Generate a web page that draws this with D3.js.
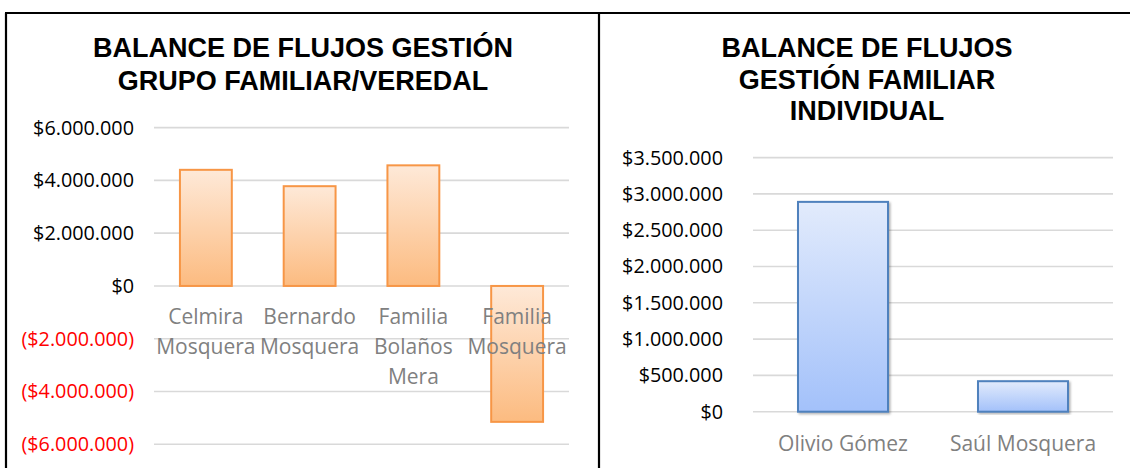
<!DOCTYPE html>
<html lang="es">
<head>
  <meta charset="UTF-8">
  <title>Balance de flujos</title>
  <script src="https://cdn.jsdelivr.net/npm/d3@7"></script>
</head>
<body>
<style>
  body {
    margin: 0;
    padding: 0;
    background: #fff;
  }

  .title {
    font-family: "Liberation Sans", Arial, sans-serif;
    font-weight: bold;
    font-size: 27px;
    fill: #000;
  }

  .tick-label {
    font-family: "Open Sans", sans-serif;
    font-size: 19.8px;
  }

  .cat-label {
    font-family: "Open Sans", sans-serif;
    font-size: 21px;
    fill: #808080;
  }
</style>
<script>
  const width = 1130
  const height = 468

  // left chart: grupo familiar / veredal
  const groupNames = [
    ['Celmira', 'Mosquera'],
    ['Bernardo', 'Mosquera'],
    ['Familia', 'Bolaños', 'Mera'],
    ['Familia', 'Mosquera']
  ]
  const groupValues = [4400000, 3780000, 4570000, -5150000]
  const groupTicks = [-6000000, -4000000, -2000000, 0, 2000000, 4000000, 6000000]

  // right chart: familiar individual
  const indivNames = ['Olivio Gómez', 'Saúl Mosquera']
  const indivValues = [2890000, 420000]
  const indivTicks = [0, 500000, 1000000, 1500000, 2000000, 2500000, 3000000, 3500000]

  const money = v => {
    const s = '$' + d3.format(',')(Math.abs(v)).replace(/,/g, '.')
    return v < 0 ? `(${s})` : s
  }

  const svg = d3.select('body').append('svg')
    .attr('width', width)
    .attr('height', height)

  const defs = svg.append('defs')

  const orange = defs.append('linearGradient')
    .attr('id', 'orangeGrad')
    .attr('x1', 0).attr('y1', 0).attr('x2', 0).attr('y2', 1)
  orange.append('stop').attr('offset', '0%').attr('stop-color', '#fee9d8')
  orange.append('stop').attr('offset', '100%').attr('stop-color', '#fcbb80')

  const blue = defs.append('linearGradient')
    .attr('id', 'blueGrad')
    .attr('x1', 0).attr('y1', 0).attr('x2', 0).attr('y2', 1)
  blue.append('stop').attr('offset', '0%').attr('stop-color', '#e2ebfc')
  blue.append('stop').attr('offset', '100%').attr('stop-color', '#a3c1fa')

  defs.append('filter')
    .attr('id', 'shadow')
    .attr('x', '-10%').attr('y', '-10%').attr('width', '130%').attr('height', '120%')
    .append('feDropShadow')
    .attr('dx', 1.5).attr('dy', 1.5).attr('stdDeviation', 1.2)
    .attr('flood-color', '#000').attr('flood-opacity', 0.3)

  // frames
  svg.append('path')
    .attr('d', `M5,13H${width}M6,13V${height}M599,13V${height}`)
    .attr('stroke', '#000')
    .attr('stroke-width', 2.2)
    .attr('fill', 'none')

  function drawTitle(lines, cx, y0, step) {
    svg.append('text')
      .attr('class', 'title')
      .attr('text-anchor', 'middle')
      .selectAll('tspan')
      .data(lines)
      .join('tspan')
      .attr('x', cx)
      .attr('y', (d, i) => y0 + i * step)
      .text(d => d)
  }

  function drawGrid(y, ticks, x0, x1, labelX, colorFn) {
    const g = svg.append('g')
    g.selectAll('line')
      .data(ticks)
      .join('line')
      .attr('x1', x0)
      .attr('x2', x1)
      .attr('y1', d => y(d))
      .attr('y2', d => y(d))
      .attr('stroke', '#d9d9d9')
      .attr('stroke-width', 1.6)
    g.selectAll('text')
      .data(ticks)
      .join('text')
      .attr('class', 'tick-label')
      .attr('x', labelX)
      .attr('y', d => y(d))
      .attr('dy', '0.35em')
      .attr('text-anchor', 'end')
      .attr('fill', colorFn)
      .text(money)
  }

  // ---- left chart ----
  drawTitle(['BALANCE DE FLUJOS GESTIÓN', 'GRUPO FAMILIAR/VEREDAL'], 303, 57, 33)

  const x1 = d3.scaleBand()
    .domain(d3.range(groupValues.length))
    .range([154, 569])
    .paddingInner(0.5)
    .paddingOuter(0.25)

  const y1 = d3.scaleLinear()
    .domain([-6000000, 6000000])
    .range([444.3, 127.6])

  drawGrid(y1, groupTicks, 154, 569, 134, d => d < 0 ? '#ff0000' : '#000')

  svg.append('g')
    .selectAll('rect')
    .data(groupValues)
    .join('rect')
    .attr('x', (d, i) => x1(i))
    .attr('width', x1.bandwidth())
    .attr('y', d => y1(Math.max(0, d)))
    .attr('height', d => Math.abs(y1(d) - y1(0)))
    .attr('fill', 'url(#orangeGrad)')
    .attr('stroke', '#f79646')
    .attr('stroke-width', 2)

  svg.append('g')
    .selectAll('text')
    .data(groupNames)
    .join('text')
    .attr('class', 'cat-label')
    .attr('text-anchor', 'middle')
    .selectAll('tspan')
    .data((d, i) => d.map(t => ({ t, i })))
    .join('tspan')
    .attr('x', d => x1(d.i) + x1.bandwidth() / 2)
    .attr('y', (d, j) => 324 + j * 30)
    .text(d => d.t)

  // ---- right chart ----
  drawTitle(['BALANCE DE FLUJOS', 'GESTIÓN FAMILIAR', 'INDIVIDUAL'], 867, 57, 31.5)

  const x2 = d3.scaleBand()
    .domain(indivNames)
    .range([753, 1113])
    .paddingInner(0.5)
    .paddingOuter(0.25)

  const y2 = d3.scaleLinear()
    .domain([0, 3500000])
    .range([411.7, 157.6])

  drawGrid(y2, indivTicks, 753, 1113, 723, '#000')

  svg.append('g')
    .selectAll('rect')
    .data(indivValues)
    .join('rect')
    .attr('x', (d, i) => x2(indivNames[i]))
    .attr('width', x2.bandwidth())
    .attr('y', d => y2(d))
    .attr('height', d => y2(0) - y2(d))
    .attr('fill', 'url(#blueGrad)')
    .attr('stroke', '#4f81bd')
    .attr('stroke-width', 2)
    .attr('filter', 'url(#shadow)')

  svg.append('g')
    .selectAll('text')
    .data(indivNames)
    .join('text')
    .attr('class', 'cat-label')
    .attr('text-anchor', 'middle')
    .attr('x', d => x2(d) + x2.bandwidth() / 2)
    .attr('y', 451)
    .text(d => d)
</script>
</body>
</html>
